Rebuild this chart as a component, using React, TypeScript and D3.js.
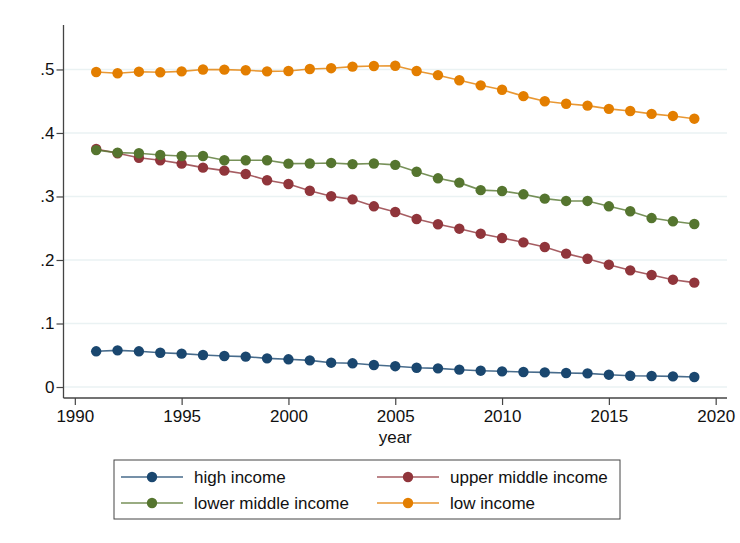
import { useEffect, useRef } from 'react';
import * as d3 from 'd3';

const years = d3.range(1991, 2020);

const highIncome = [
  0.0562, 0.0577, 0.0562, 0.054, 0.0525, 0.0504, 0.0488, 0.0478, 0.0451, 0.0436,
  0.042, 0.0383, 0.0373, 0.0346, 0.0328, 0.0304, 0.0294, 0.0273, 0.0257, 0.0247,
  0.0236, 0.023, 0.022, 0.0215, 0.0194, 0.0178, 0.0173, 0.0168, 0.0157,
];
const upperMiddle = [
  0.3748, 0.368, 0.361, 0.357, 0.3517, 0.3454, 0.3407, 0.3354, 0.3255, 0.3197,
  0.309, 0.3003, 0.2955, 0.2845, 0.2756, 0.2646, 0.2562, 0.2493, 0.2414, 0.2346,
  0.2278, 0.2205, 0.21, 0.202, 0.1926, 0.1837, 0.1764, 0.169, 0.1643,
];
const lowerMiddle = [
  0.373, 0.369, 0.368, 0.3654, 0.3638, 0.3638, 0.357, 0.357, 0.357, 0.3517,
  0.352, 0.3528, 0.351, 0.352, 0.3498, 0.339, 0.3286, 0.3218, 0.31, 0.3087,
  0.3034, 0.2966, 0.293, 0.293, 0.2845, 0.2767, 0.266, 0.2609, 0.2567,
];
const lowIncome = [
  0.496, 0.494, 0.4965, 0.4955, 0.497, 0.5, 0.4997, 0.4987, 0.497, 0.4976,
  0.5008, 0.502, 0.5045, 0.5055, 0.5058, 0.4976, 0.491, 0.483, 0.475, 0.468,
  0.458, 0.45, 0.446, 0.443, 0.438, 0.4346, 0.43, 0.4268, 0.4225,
];

const seriesNames = ['high income', 'upper middle income', 'lower middle income', 'low income'];
const seriesValues = [highIncome, upperMiddle, lowerMiddle, lowIncome];
const seriesColors = ['#1a476f', '#90353b', '#55752f', '#e37e00'];

const xTicks = [1990, 1995, 2000, 2005, 2010, 2015, 2020];
const yTicks = [0, 0.1, 0.2, 0.3, 0.4, 0.5];
const yTickLabels = ['0', '.1', '.2', '.3', '.4', '.5'];

export default function App() {
  const svgRef = useRef<SVGSVGElement>(null);

  useEffect(() => {
    if (!svgRef.current) return;
    const svg = d3.select(svgRef.current);
    svg.selectAll('*').remove();

    const font = 'Liberation Sans, Arial, sans-serif';
    const left = 63.5;
    const right = 727;
    const top = 25;
    const bottom = 398;

    const x = d3.scaleLinear().domain([1989.47, 2020.53]).range([left, right]);
    const y = d3.scaleLinear().domain([-0.0173, 0.57]).range([bottom, top]);

    svg.append('rect').attr('width', 740).attr('height', 543).attr('fill', '#fff');

    // gridlines
    svg.append('g')
      .selectAll('line')
      .data(yTicks)
      .enter()
      .append('line')
      .attr('x1', left)
      .attr('x2', right)
      .attr('y1', d => y(d))
      .attr('y2', d => y(d))
      .attr('stroke', '#eaf2f3')
      .attr('stroke-width', 1.5);

    // y axis
    const yAxis = svg.append('g')
      .attr('transform', `translate(${left},0)`)
      .call(d3.axisLeft(y)
        .tickValues(yTicks)
        .tickSize(7)
        .tickPadding(2)
        .tickFormat((_, i) => yTickLabels[i]));
    yAxis.select('.domain').attr('d', `M0,${top}V${bottom}`).attr('stroke', '#444').attr('stroke-width', 1.3);
    yAxis.selectAll('.tick line').attr('stroke', '#444').attr('stroke-width', 1.2);
    yAxis.selectAll('text').attr('font-family', font).attr('font-size', 17).attr('fill', '#111');

    // x axis
    const xAxis = svg.append('g')
      .attr('transform', `translate(0,${bottom})`)
      .call(d3.axisBottom(x).tickValues(xTicks).tickSize(7).tickPadding(5).tickFormat(d3.format('d')));
    xAxis.select('.domain').attr('d', `M${left},0H${right}`).attr('stroke', '#444').attr('stroke-width', 1.3);
    xAxis.selectAll('.tick line').attr('stroke', '#444').attr('stroke-width', 1.2);
    xAxis.selectAll('text').attr('font-family', font).attr('font-size', 17).attr('fill', '#111');

    svg.append('text')
      .attr('x', (left + right) / 2)
      .attr('y', 443)
      .attr('text-anchor', 'middle')
      .attr('font-family', font)
      .attr('font-size', 17)
      .attr('fill', '#111')
      .text('year');

    const line = d3.line<number>()
      .x((_, i) => x(years[i]))
      .y(d => y(d));

    seriesValues.forEach((vals, s) => {
      const g = svg.append('g');
      g.append('path')
        .datum(vals)
        .attr('fill', 'none')
        .attr('stroke', seriesColors[s])
        .attr('stroke-opacity', 0.8)
        .attr('stroke-width', 1.6)
        .attr('d', line);
      g.selectAll('circle')
        .data(vals)
        .enter()
        .append('circle')
        .attr('cx', (_, i) => x(years[i]))
        .attr('cy', d => y(d))
        .attr('r', 5.2)
        .attr('fill', seriesColors[s]);
    });

    // legend
    const legend = svg.append('g');
    legend.append('rect')
      .attr('x', 114)
      .attr('y', 460)
      .attr('width', 506)
      .attr('height', 59)
      .attr('fill', '#fff')
      .attr('stroke', '#444')
      .attr('stroke-width', 1);

    const colX = [121, 377];
    const rowY = [477, 503];
    seriesNames.forEach((name, s) => {
      const cx = colX[s % 2];
      const cy = rowY[Math.floor(s / 2)];
      legend.append('line')
        .attr('x1', cx).attr('x2', cx + 62)
        .attr('y1', cy).attr('y2', cy)
        .attr('stroke', seriesColors[s])
        .attr('stroke-opacity', 0.8)
        .attr('stroke-width', 1.6);
      legend.append('circle')
        .attr('cx', cx + 31)
        .attr('cy', cy)
        .attr('r', 5.2)
        .attr('fill', seriesColors[s]);
      legend.append('text')
        .attr('x', cx + 73)
        .attr('y', cy)
        .attr('dy', '0.35em')
        .attr('font-family', font)
        .attr('font-size', 17)
        .attr('fill', '#111')
        .text(name);
    });
  }, []);

  return (
    <svg
      ref={svgRef}
      width={740}
      height={543}
      style={{ position: 'absolute', top: 0, left: 0, display: 'block' }}
    />
  );
}
